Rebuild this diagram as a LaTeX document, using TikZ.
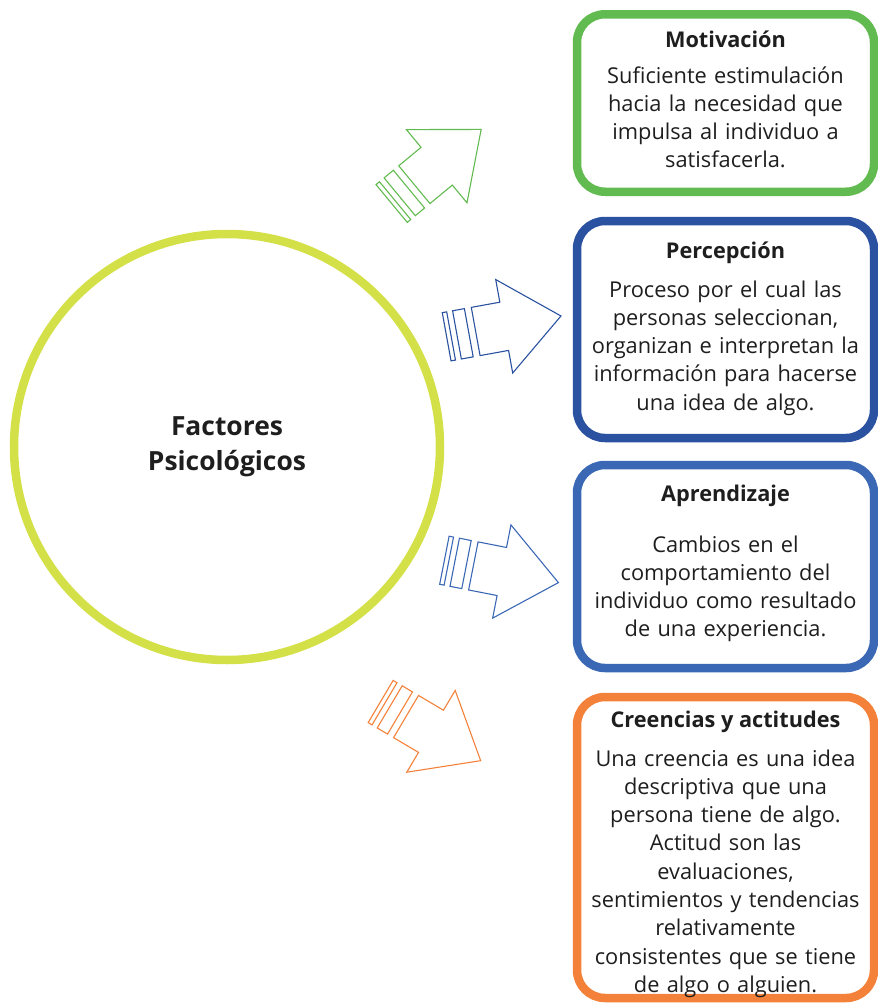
\documentclass[tikz,border=0pt]{standalone}
\usepackage{fontspec}
\setmainfont{Open Sans}
\usetikzlibrary{positioning}

\definecolor{circlegreen}{RGB}{212,224,72}
\definecolor{motivgreen}{RGB}{98,187,80}
\definecolor{percblue}{RGB}{42,82,160}
\definecolor{aprendblue}{RGB}{58,104,181}
\definecolor{creenorange}{RGB}{244,129,58}
\definecolor{txt}{RGB}{30,30,30}

\tikzset{
  factorbox/.style={draw=#1, line width=8.5pt, rounded corners=28pt,
    minimum width=297pt},
  boxtitle/.style={font=\fontsize{21.7}{28.3}\selectfont\bfseries, text=txt,
    anchor=base},
  boxbody/.style={font=\fontsize{21.8}{28.3}\selectfont, text=txt,
    align=center, text width=320pt, anchor=base, inner sep=0pt},
  pics/stripearrow/.style={code={
    \draw[line width=1.1pt, #1] (0,-47.5) -- (57.7,0) -- (0,47.5) -- (0,24.5)
      -- (-29,24.5) -- (-29,-24.5) -- (0,-24.5) -- cycle;
    \draw[line width=1.1pt, #1] (-48,-24.5) rectangle (-36,24.5);
    \draw[line width=1.1pt, #1] (-58.5,-24.5) rectangle (-54,24.5);
  }}
}

\begin{document}
\begin{tikzpicture}[x=1pt,y=-1pt]
  \useasboundingbox (0,0) rectangle (878,1004);

  % Big circle on the left
  \node[draw=circlegreen, line width=8.5pt, circle, minimum size=426pt,
    font=\fontsize{26.4}{35}\selectfont\bfseries, text=txt, align=center]
    (factores) at (227,447) {Factores\\Psicológicos};

  % The four boxes on the right (stroke centres x = 577 .. 874)
  \node[factorbox=motivgreen,  minimum height=177.5pt] (motiv)  at (725.5,103) {};
  \node[factorbox=percblue,    minimum height=217pt]   (percep) at (725.5,329.5) {};
  \node[factorbox=aprendblue,  minimum height=203pt]   (aprend) at (725.5,566.5) {};
  \node[factorbox=creenorange, minimum height=301pt]   (creen)  at (725.5,847.5) {};

  % Titles, placed on their baselines
  \node[boxtitle] (motivT)  at (725.5,47)  {Motivación};
  \node[boxtitle] (percepT) at (725.5,258) {Percepción};
  \node[boxtitle] (aprendT) at (725.5,501) {Aprendizaje};
  \node[boxtitle] (creenT)  at (725.5,727) {Creencias y actitudes};

  % Body texts, base = baseline of the first line
  \node[boxbody] (motivB) at (725.5,83)
    {Suficiente estimulación\\hacia la necesidad que\\impulsa al individuo a\\satisfacerla.};
  \node[boxbody] (percepB) at (725.5,297)
    {Proceso por el cual las\\personas seleccionan,\\organizan e interpretan la\\información para hacerse\\una idea de algo.};
  \node[boxbody] (aprendB) at (725.5,552)
    {Cambios en el\\comportamiento del\\individuo como resultado\\de una experiencia.};
  \node[boxbody] (creenB) at (725.5,766)
    {Una creencia es una idea\\descriptiva que una\\persona tiene de algo.\\Actitud son las\\evaluaciones,\\sentimientos y tendencias\\relativamente\\consistentes que se tiene\\de algo o alguien.};

  % Striped block arrows, origin = middle of the head base
  \pic[rotate=39.6]  at (436.7,166.2) {stripearrow=motivgreen};
  \pic[rotate=10.3]  at (504.2,326.3) {stripearrow=percblue};
  \pic[rotate=-11.1] at (501.8,571.5) {stripearrow=aprendblue};
  \pic[rotate=-30.6] at (431,731.3)   {stripearrow=creenorange};
\end{tikzpicture}
\end{document}
